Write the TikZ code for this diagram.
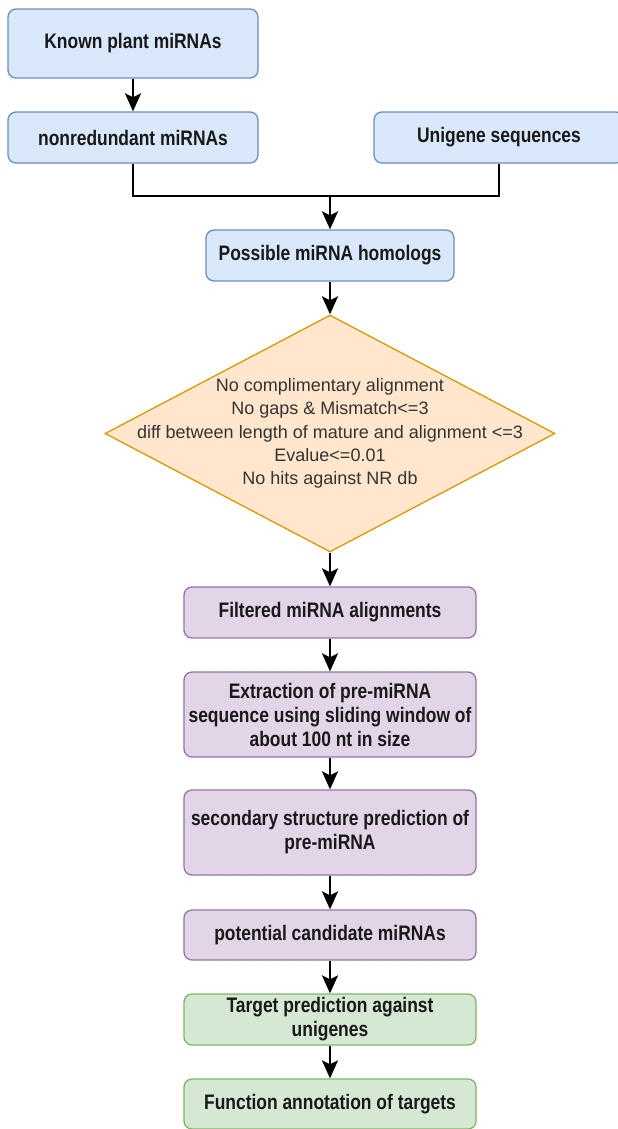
\documentclass[tikz,border=0pt]{standalone}
\usepackage{fontspec}
\setmainfont{Liberation Sans}
\newfontfamily\boxfont[FakeStretch=0.83]{Liberation Sans}
\usetikzlibrary{shapes.geometric,arrows.meta}

\definecolor{bluefill}{HTML}{DAE8FC}
\definecolor{bluedraw}{HTML}{6C8EBF}
\definecolor{orangefill}{HTML}{FFE6CC}
\definecolor{orangedraw}{HTML}{D79B00}
\definecolor{purplefill}{HTML}{E1D5E7}
\definecolor{purpledraw}{HTML}{9673A6}
\definecolor{greenfill}{HTML}{D5E8D4}
\definecolor{greendraw}{HTML}{82B366}

\tikzset{
  stepbox/.style={draw, rounded corners=8pt, line width=1.3pt, inner sep=0pt,
    align=center, text=black!90,
    font=\boxfont\bfseries\fontsize{21}{24}\selectfont},
  inputbox/.style={stepbox, fill=bluefill, draw=bluedraw, minimum width=250pt},
  filterbox/.style={stepbox, fill=purplefill, draw=purpledraw, minimum width=292pt},
  targetbox/.style={stepbox, fill=greenfill, draw=greendraw, minimum width=292pt},
  flow/.style={-{Stealth[length=18pt,width=16pt,inset=4pt]}, line width=2.4pt}
}

\begin{document}
\begin{tikzpicture}[x=1pt,y=-1pt]
\useasboundingbox (0,0) rectangle (618,1129);
% input side
\node[inputbox, minimum height=69pt] (known) at (133,43.5) {Known plant miRNAs};
\node[inputbox, minimum height=51pt] (nonred) at (133,137.5) {nonredundant miRNAs};
\node[inputbox, minimum height=51pt] (unigene) at (499,137.5) {Unigene sequences};
\node[inputbox, minimum height=51pt, minimum width=248pt] (homologs) at (330,255.5) {Possible miRNA homologs};
\coordinate (merge) at (330,196);
% filtering criteria
\node[diamond, draw=orangedraw, fill=orangefill, line width=1.3pt, inner sep=0pt,
  minimum width=450pt, minimum height=237pt] (criteria) at (330,433.5) {};
\node[align=center, text=black!80, font=\fontsize{18}{23.3}\selectfont] (criteriatext) at (criteria.center)
  {No complimentary alignment\\No gaps \& Mismatch<=3\\diff between length of mature and alignment <=3\\Evalue<=0.01\\No hits against NR db};
% pre-miRNA steps
\node[filterbox, minimum height=51pt] (filtered) at (330,612.5) {Filtered miRNA alignments};
\node[filterbox, minimum height=85pt] (extract) at (330,714.5) {Extraction of pre-miRNA\\sequence using sliding window of\\about 100 nt in size};
\node[filterbox, minimum height=85pt] (second) at (330,832.5) {secondary structure prediction of\\pre-miRNA};
\node[filterbox, minimum height=50pt] (cand) at (330,935) {potential candidate miRNAs};
% targets
\node[targetbox, minimum height=51pt] (target) at (330,1019.5) {Target prediction against\\unigenes};
\node[targetbox, minimum height=50pt] (annot) at (330,1104) {Function annotation of targets};
% connectors
\draw[flow] (known) -- (nonred);
\draw[line width=2.4pt] (nonred.south) |- (merge) -| (unigene.south);
\draw[flow] (merge) -- (homologs);
\draw[flow] (homologs) -- (criteria);
\draw[flow] (criteria) -- (filtered);
\draw[flow] (filtered) -- (extract);
\draw[flow] (extract) -- (second);
\draw[flow] (second) -- (cand);
\draw[flow] (cand) -- (target);
\draw[flow] (target) -- (annot);
\end{tikzpicture}
\end{document}
